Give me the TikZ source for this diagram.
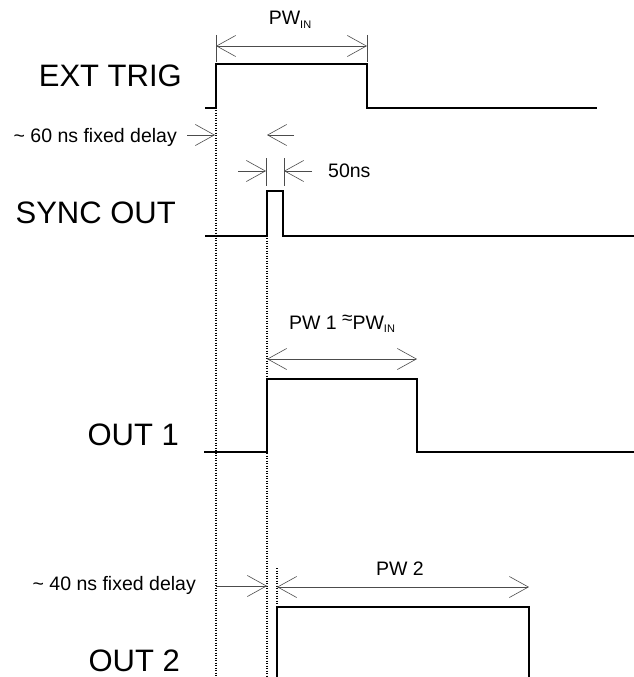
\documentclass[tikz,border=0pt]{standalone}
\usepackage{fontspec}
\setmainfont{Liberation Sans}
\usetikzlibrary{arrows.meta}
\tikzset{
  signal/.style={line width=2.4pt,line join=miter,line cap=butt},
  guide/.style={dash pattern=on 1.2pt off 1.3pt,line width=1.1pt},
  dimline/.style={line width=0.6pt,black!70},
  barb/.tip={Straight Barb[length=19pt,width=21pt,line width=0.6pt]},
  biglabel/.style={font=\fontsize{31}{32}\selectfont,inner sep=0pt},
  smalllabel/.style={font=\fontsize{19.5}{21}\selectfont,inner sep=0pt}
}
\newcommand{\pwsub}[1]{\raisebox{-0.35ex}{\fontsize{11}{11}\selectfont #1}}

\begin{document}
\begin{tikzpicture}[x=1pt,y=-1pt]
		\useasboundingbox (0,0) rectangle (634,677);
		% signal names
		\node[biglabel,anchor=east] (exttrig) at (182,76) {EXT TRIG};
		\node[biglabel,anchor=east] (syncout) at (176,213) {SYNC OUT};
		\node[biglabel,anchor=east] (outone) at (179,435) {OUT 1};
		\node[biglabel,anchor=east] (outtwo) at (180,661) {OUT 2};
		% waveforms
		\draw[signal] (205,108) -- (216,108) -- (216,64) -- (367,64) -- (367,108) -- (597,108);
		\draw[signal] (205,236) -- (267,236) -- (267,191) -- (283,191) -- (283,236) -- (634,236);
		\draw[signal] (204,452) -- (267,452) -- (267,379) -- (417,379) -- (417,452) -- (634,452);
		\draw[signal] (277,680) -- (277,607) -- (529,607) -- (529,680);
		% timing guides
		\draw[guide] (216,110) -- (216,677);
		\draw[guide] (267,238) -- (267,677);
		\draw[guide] (277,568) -- (277,605);
		% PW_IN
		\coordinate (inL) at (216,46);
		\coordinate (inR) at (367,46);
		\draw[dimline] (216,35) -- (216,62);
		\draw[dimline] (367,35) -- (367,62);
		\draw[dimline,barb-barb] (inL) -- (inR);
		\node[smalllabel] (pwin) at (290,20) {PW\pwsub{IN}};
		% 60 ns delay
		\coordinate (dlyA) at (187,135);
		\coordinate (dlyB) at (215,135);
		\coordinate (dlyC) at (294,135);
		\coordinate (dlyD) at (267,135);
		\draw[dimline,-barb] (dlyA) -- (dlyB);
		\draw[dimline,-barb] (dlyC) -- (dlyD);
		\node[smalllabel,anchor=east] (delaysixty) at (177,137) {\char`~\ 60 ns fixed delay};
		% 50 ns width
		\coordinate (syA) at (238,171);
		\coordinate (syB) at (266,171);
		\coordinate (syC) at (312,171);
		\coordinate (syD) at (284,171);
		\draw[dimline] (266,158) -- (266,186);
		\draw[dimline] (284,158) -- (284,186);
		\draw[dimline,-barb] (syA) -- (syB);
		\draw[dimline,-barb] (syC) -- (syD);
		\node[smalllabel,anchor=west] (fifty) at (328,171) {50ns};
		% PW 1
		\coordinate (oneL) at (267,359);
		\coordinate (oneR) at (417,359);
		\draw[dimline,barb-barb] (oneL) -- (oneR);
		\node[smalllabel] (pwone) at (342,324) {PW 1 \raisebox{0.45ex}{\fontsize{19}{19}\selectfont ≈}PW\pwsub{IN}};
		% 40 ns delay and PW 2
		\coordinate (twA) at (216,586);
		\coordinate (twB) at (267,586);
		\coordinate (twoL) at (277,587);
		\coordinate (twoR) at (529,587);
		\draw[dimline,-barb] (twA) -- (twB);
		\draw[dimline,barb-barb] (twoL) -- (twoR);
		\node[smalllabel,anchor=east] (delayforty) at (196,585) {\char`~\ 40 ns fixed delay};
		\node[smalllabel] (pwtwo) at (400,569) {PW 2};
\end{tikzpicture}
\end{document}
